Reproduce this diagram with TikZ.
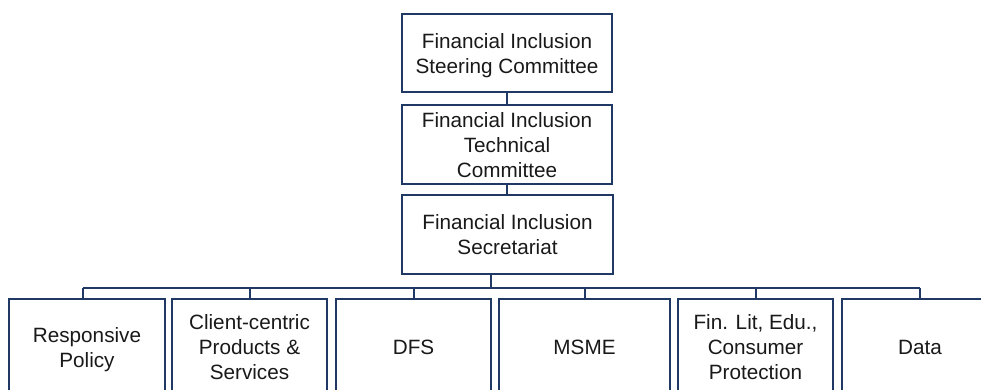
\documentclass[tikz,border=0pt]{standalone}
\usepackage{fontspec}
\setmainfont{Liberation Sans}
\definecolor{navy}{RGB}{31,56,100}
\newcommand{\boxlines}[1]{\raisebox{-2.5pt}[\height][\depth]{\begin{tabular}{@{}c@{}}#1\end{tabular}}}
\begin{document}
\begin{tikzpicture}[x=1pt,y=-1pt,
  box/.style={draw=navy,line width=1.8pt,fill=white,rectangle,inner sep=0pt,
    font=\fontsize{20.7}{25}\selectfont,text=black!90},
  link/.style={draw=navy,line width=1.8pt}]
\useasboundingbox (0,0) rectangle (981,389);
\clip (0,0) rectangle (981,389);
\fill[white] (0,0) rectangle (981,389);
% top chain
\node[box,minimum width=210pt,minimum height=78pt] (steer) at (507,53) {\boxlines{Financial Inclusion\\Steering Committee}};
\node[box,minimum width=210pt,minimum height=79pt] (tech) at (507,144.5) {\boxlines{Financial Inclusion\\Technical\\Committee}};
\node[box,minimum width=211pt,minimum height=79pt] (sec) at (507.5,234.5) {\boxlines{Financial Inclusion\\Secretariat}};
% bottom row
\node[box,minimum width=156pt,minimum height=96pt] (b1) at (87,347) {\boxlines{Responsive\\Policy}};
\node[box,minimum width=155pt,minimum height=96pt] (b2) at (249.5,347) {\boxlines{Client-centric\\Products \&\\Services}};
\node[box,minimum width=155pt,minimum height=96pt] (b3) at (413.5,347) {\boxlines{DFS}};
\node[box,minimum width=171pt,minimum height=96pt] (b4) at (584.5,347) {\boxlines{MSME}};
\node[box,minimum width=155pt,minimum height=96pt] (b5) at (755.5,347) {\boxlines{Fin. Lit, Edu.,\\Consumer\\Protection}};
\node[box,minimum width=156pt,minimum height=96pt] (b6) at (920,347) {\boxlines{Data}};
% connectors
\coordinate (bus) at (491,288);
\coordinate (d1) at (83,288);
\coordinate (d2) at (250,288);
\coordinate (d3) at (414,288);
\coordinate (d4) at (585,288);
\coordinate (d5) at (756,288);
\coordinate (d6) at (920,288);
\draw[link] (steer.south) -- (tech.north);
\draw[link] (tech.south) -- (sec.north -| tech.south);
\draw[link] (sec.south -| bus) -- (bus);
\draw[link] (d1) -- (d6);
\draw[link] (d1) -- (d1 |- b1.north);
\draw[link] (d2) -- (d2 |- b2.north);
\draw[link] (d3) -- (d3 |- b3.north);
\draw[link] (d4) -- (d4 |- b4.north);
\draw[link] (d5) -- (d5 |- b5.north);
\draw[link] (d6) -- (d6 |- b6.north);
\end{tikzpicture}
\end{document}
